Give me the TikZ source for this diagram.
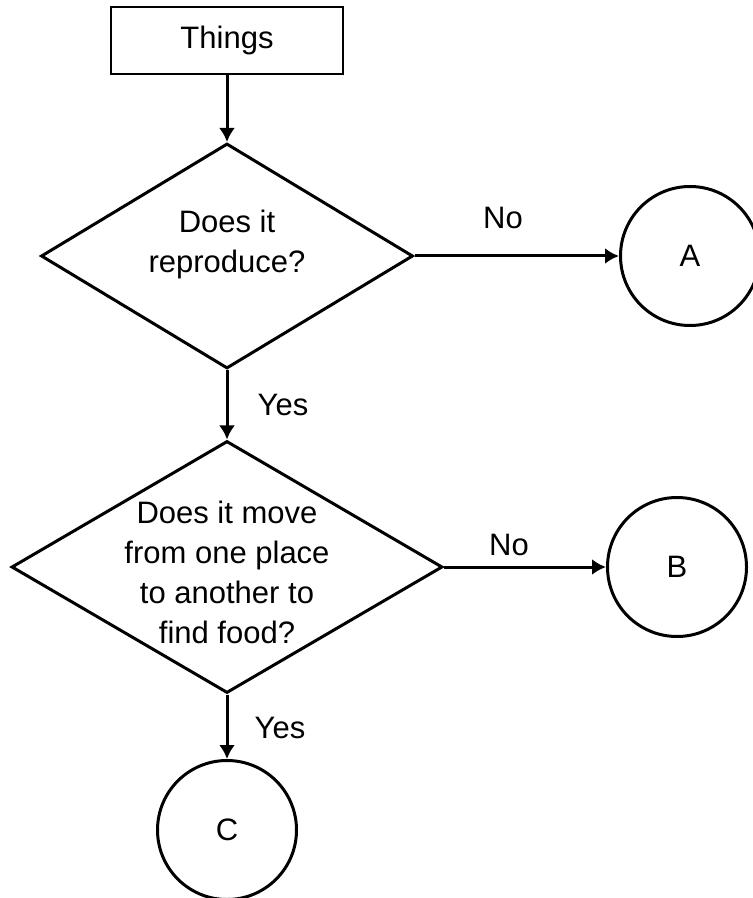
\documentclass[tikz,border=0pt]{standalone}
\usepackage{fontspec}
\setmainfont{Liberation Sans}
\usetikzlibrary{shapes.geometric,arrows.meta}

\begin{document}
\begin{tikzpicture}[x=0.5pt,y=-0.5pt,
		every node/.style={font=\fontsize{15.5}{20}\selectfont},
		thing/.style={draw,line width=1.4pt,minimum width=116pt,minimum height=33.5pt,inner sep=0pt},
		question/.style={draw,diamond,line width=1.5pt,align=center,inner sep=0pt,shape aspect=1.7},
		answer/.style={draw,circle,line width=1.5pt,minimum size=69.5pt,inner sep=0pt},
		flow/.style={line width=1.5pt,-{Latex[length=7pt,width=8pt]}}]
				\useasboundingbox (0,0) rectangle (752,898);
				% start
				\node[thing] (things) at (227,40.5) {Things};
				
				% questions
				\node[question,minimum width=186pt,minimum height=112.5pt,text depth=15pt] (q1) at (227,256) {Does it\\reproduce?};
				\node[question,minimum width=215.5pt,minimum height=126pt,inner xsep=-5pt,inner ysep=-3pt,text height=77.1pt] (q2) at (227,567) {Does it move\\from one place\\to another to\\find food?};
				
				% answers
				\node[answer] (a) at (690,256) {A};
				\node[answer] (b) at (677,567) {B};
				\node[answer] (c) at (227,830) {C};
				
				% arrows
				\draw[flow] (things) -- (q1);
				\draw[flow] (q1) -- (a);
				\draw[flow] (q1) -- (q2);
				\draw[flow] (q2) -- (b);
				\draw[flow] (q2) -- (c);
				
				% labels
				\node (no1) at (503,218) {No};
				\node (yes1) at (283,405) {Yes};
				\node (no2) at (509,545) {No};
				\node (yes2) at (280,728) {Yes};
\end{tikzpicture}
\end{document}
